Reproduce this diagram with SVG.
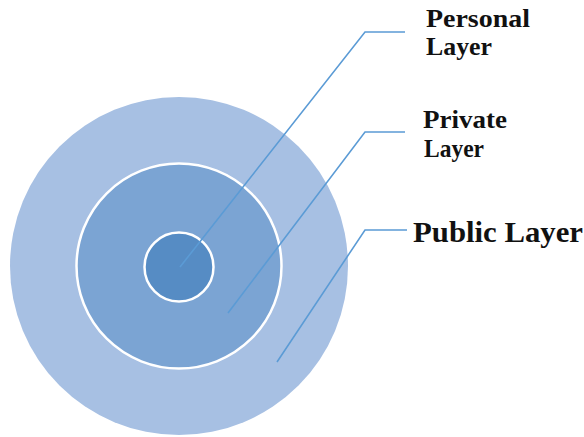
<svg xmlns="http://www.w3.org/2000/svg" width="584" height="437" viewBox="0 0 584 437">
  <style>
    .lbl { font-family: 'Liberation Serif', 'Times New Roman', Times, 'DejaVu Serif', serif; font-weight: 700; fill: #111; }
    .two { font-size: 24.5px; }
    .lead { fill: none; stroke: #5b9bd5; stroke-width: 1.6; }
  </style>
  <rect width="584" height="437" fill="#ffffff"/>
  <g id="public-layer">
    <circle cx="179" cy="266" r="169" fill="#a7c0e3"/>
  </g>
  <g id="private-layer">
    <circle cx="179" cy="266" r="102.5" fill="#7ba4d3" stroke="#ffffff" stroke-width="2.5"/>
  </g>
  <g id="personal-layer">
    <circle cx="179" cy="267" r="34.5" fill="#568cc4" stroke="#ffffff" stroke-width="2.5"/>
  </g>
  <g id="connectors">
    <polyline class="lead" points="180,267 365,32 405,32"/>
    <polyline class="lead" points="228,313 365,132 405,132"/>
    <polyline class="lead" points="277,362 365,230 407,230"/>
  </g>
  <g id="labels">
    <text class="lbl two" x="426" y="27" textLength="104" lengthAdjust="spacingAndGlyphs">Personal</text>
    <text class="lbl two" x="426" y="55" textLength="66" lengthAdjust="spacingAndGlyphs">Layer</text>
    <text class="lbl two" x="423" y="128" textLength="84" lengthAdjust="spacingAndGlyphs">Private</text>
    <text class="lbl two" x="424" y="157" textLength="60" lengthAdjust="spacingAndGlyphs">Layer</text>
    <text class="lbl" x="413" y="242" font-size="30" textLength="170" lengthAdjust="spacingAndGlyphs">Public Layer</text>
  </g>
</svg>
